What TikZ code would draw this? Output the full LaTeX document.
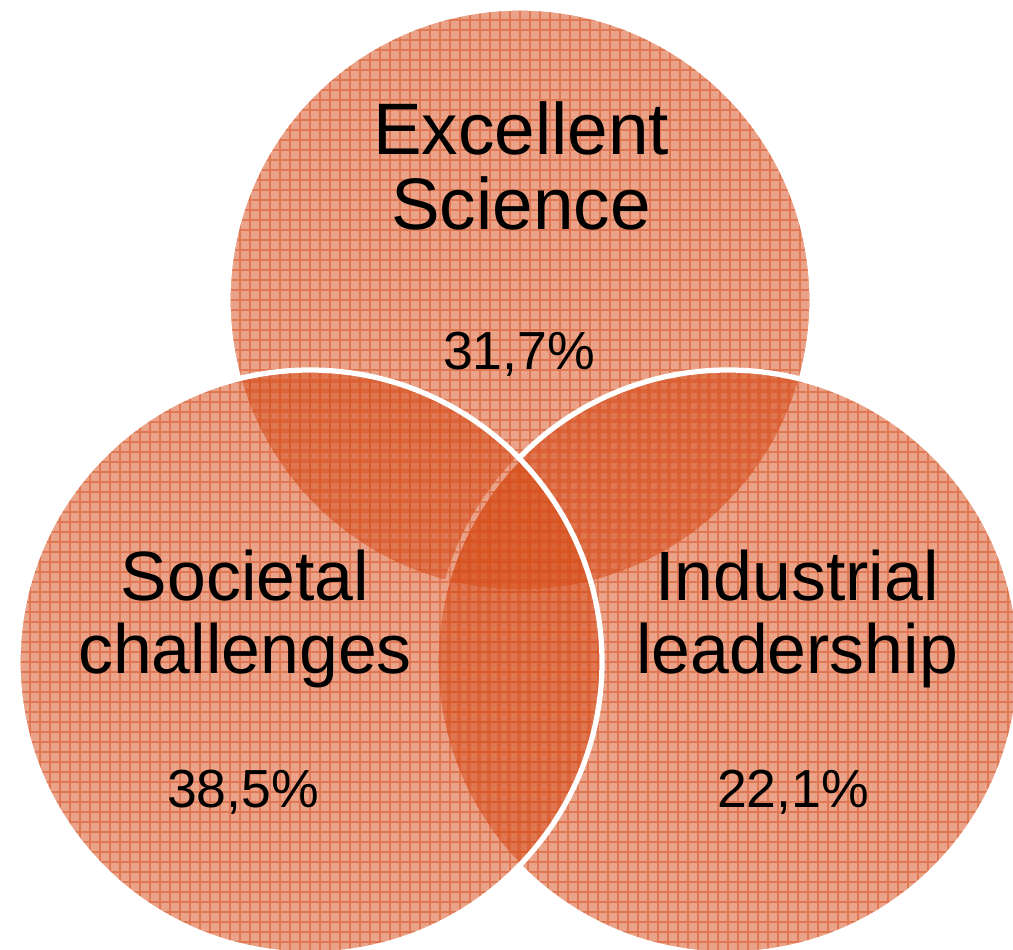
\documentclass[tikz,border=0pt]{standalone}
\usepackage{fontspec}
\setmainfont{Liberation Sans}
\definecolor{vennorange}{RGB}{215,80,30}
\tikzset{
bigtext/.style={
  font=\fontsize{41.5}{43}\selectfont,
  align=center,
  inner sep=0pt
  },
lowtext/.style={
  font=\fontsize{39.7}{41.4}\selectfont,
  align=center,
  inner sep=0pt
  },
pcttext/.style={
  font=\fontsize{30.5}{32}\selectfont,
  inner sep=0pt
  },
vennfill/.style={fill=vennorange, fill opacity=0.53},
venngrid/.style={draw=vennorange, draw opacity=0.5, line width=0.8pt},
vennline/.style={draw=white, line width=3pt}
}
\newcommand{\vennpart}[1]{%
  \begin{scope}
    \clip (#1) circle (5.84);
    \fill[vennfill] (#1) circle (5.84);
    \draw[venngrid, step=0.2, shift={(#1)}] (-6,-6) grid (6,6);
  \end{scope}
  \draw[vennline] (#1) circle (5.84);
}

\begin{document}
\begin{tikzpicture}
\useasboundingbox (0,0) rectangle (20.26,-19);

\coordinate (sci) at (10.4,-6.0);
\coordinate (ind) at (14.56,-13.24);
\coordinate (soc) at (6.2,-13.24);

% circles: top, right, left
\vennpart{sci}
\vennpart{ind}
\vennpart{soc}

% labels
\node[bigtext, anchor=base] (scilabel) at (10.42,-4.6) {Excellent\\Science};
\node[pcttext, anchor=base] (scipct) at (10.38,-7.4) {31,7\%};

\node[lowtext, anchor=base] (soclabel) at (4.9,-13.46) {Societal\\challenges};
\node[pcttext, anchor=base] (socpct) at (4.86,-16.14) {38,5\%};

\node[lowtext, anchor=base] (indlabel) at (15.94,-13.46) {Industrial\\leadership};
\node[pcttext, anchor=base] (indpct) at (15.86,-16.14) {22,1\%};
\end{tikzpicture}
\end{document}
